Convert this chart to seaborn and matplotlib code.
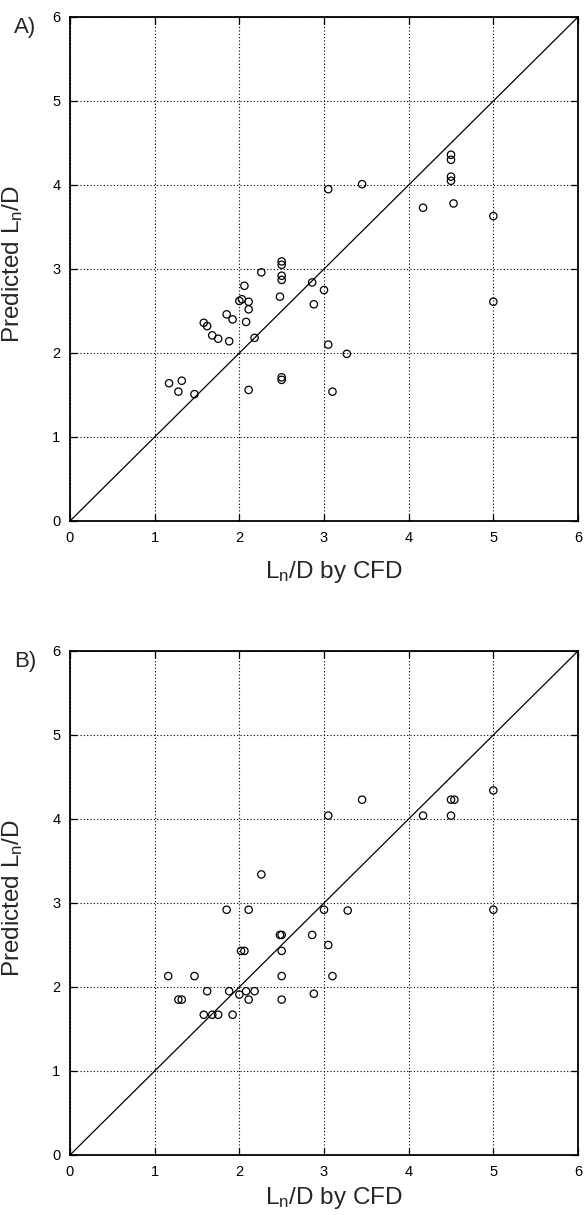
import matplotlib
matplotlib.use("Agg")
import matplotlib.pyplot as plt
import seaborn as sns
import pandas as pd

# ---- data: panel A ----
cfd_a = [1.17, 1.32, 1.28, 1.47, 1.58, 1.62, 1.68, 1.75, 1.85, 1.92, 1.88,
         2.00, 2.03, 2.06, 2.11, 2.11, 2.08, 2.18, 2.26, 2.11,
         2.50, 2.50, 2.50, 2.50, 2.48, 2.50, 2.50,
         2.86, 2.88, 3.00, 3.05, 3.27, 3.10,
         3.05, 3.45, 4.50, 4.50, 4.50, 4.50, 4.17, 4.53, 5.00, 5.00]
pred_a = [1.64, 1.67, 1.54, 1.51, 2.36, 2.32, 2.21, 2.17, 2.46, 2.40, 2.14,
          2.62, 2.64, 2.80, 2.61, 2.52, 2.37, 2.18, 2.96, 1.56,
          3.09, 3.05, 2.92, 2.87, 2.67, 1.71, 1.68,
          2.84, 2.58, 2.75, 2.10, 1.99, 1.54,
          3.95, 4.01, 4.36, 4.30, 4.10, 4.05, 3.73, 3.78, 3.63, 2.61]

# ---- data: panel B ----
cfd_b = [1.16, 1.47, 1.28, 1.32, 1.62, 1.58, 1.68, 1.75, 1.92, 1.85, 1.88,
         2.00, 2.02, 2.06, 2.08, 2.11, 2.11, 2.18, 2.26,
         2.48, 2.50, 2.50, 2.50, 2.50,
         2.86, 2.88, 3.00, 3.05, 3.10, 3.28,
         3.05, 3.45, 4.17, 4.50, 4.50, 4.54, 5.00, 5.00]
pred_b = [2.13, 2.13, 1.85, 1.85, 1.95, 1.67, 1.67, 1.67, 1.67, 2.92, 1.95,
          1.91, 2.43, 2.43, 1.95, 1.85, 2.92, 1.95, 3.34,
          2.62, 2.62, 2.43, 2.13, 1.85,
          2.62, 1.92, 2.92, 2.50, 2.13, 2.91,
          4.04, 4.23, 4.04, 4.04, 4.23, 4.23, 4.34, 2.92]

diag = [0, 6]
ticks = [0, 1, 2, 3, 4, 5, 6]
panel_labels = ["A)", "B)"]

sns.set_style("white")
plt.rcParams["font.family"] = ["Liberation Sans", "DejaVu Sans"]
plt.rcParams["mathtext.default"] = "regular"

W, H = 585, 1215
fig = plt.figure(figsize=(W / 100, H / 100), dpi=100)

axes_tops = [17, 651]
xlabel_offsets = [-0.076, -0.060]
datasets = [(cfd_a, pred_a), (cfd_b, pred_b)]

for top, xoff, (xs, ys), lab in zip(axes_tops, xlabel_offsets, datasets,
                                    panel_labels):
    ax = fig.add_axes((70 / W, 1 - (top + 504) / H, 508 / W, 504 / H))
    df = pd.DataFrame({"cfd": xs, "pred": ys})
    ax.plot(diag, diag, color="black", lw=0.9, zorder=2)
    sns.scatterplot(data=df, x="cfd", y="pred", ax=ax, marker="o",
                    s=28, facecolor="none", edgecolor="black",
                    linewidth=0.9, zorder=3)
    ax.set_xlim(0, 6)
    ax.set_ylim(0, 6)
    ax.set_xticks(ticks)
    ax.set_yticks(ticks)
    ax.grid(True, color="black", linestyle=(0, (1, 2)), linewidth=0.8)
    for sp in ax.spines.values():
        sp.set_visible(True)
        sp.set_color("black")
        sp.set_linewidth(1.3)
    ax.tick_params(direction="in", length=5, width=0.9, labelsize=10.5,
                   top=True, right=True, bottom=True, left=True, pad=7,
                   colors="black")
    ax.set_xlabel("L$_n$/D by CFD", fontsize=17.5)
    ax.set_ylabel("Predicted L$_n$/D", fontsize=17.5)
    ax.xaxis.set_label_coords(0.52, xoff)
    ax.yaxis.set_label_coords(-0.088, 0.51)
    fig.text(14 / W, 1 - (top + 16) / H, lab, fontsize=16,
             ha="left", va="baseline")

fig.savefig("out.png", dpi=100)
